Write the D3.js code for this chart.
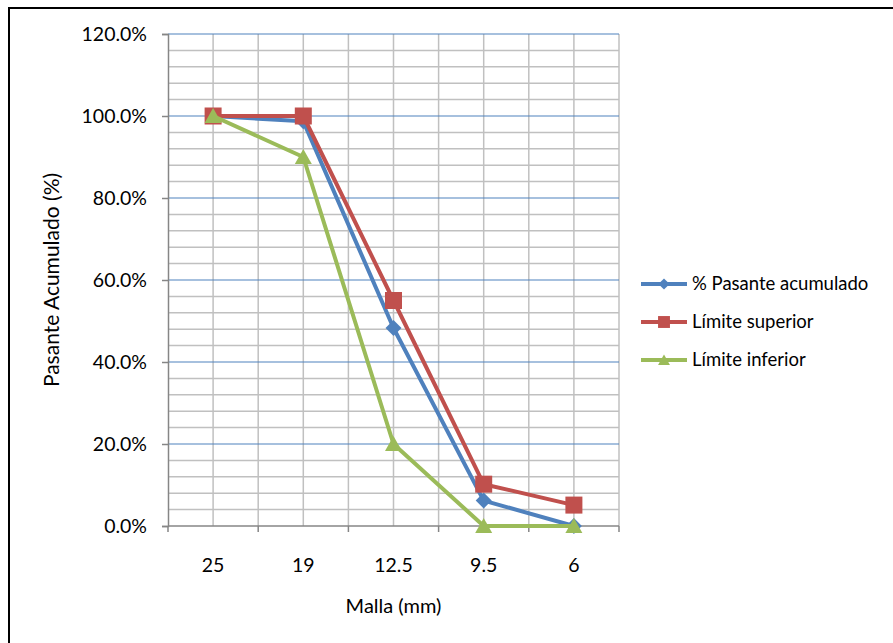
<!DOCTYPE html>
<html><head><meta charset="utf-8">
<script src="https://cdn.jsdelivr.net/npm/d3@7"></script>
<style>body{margin:0;background:#fff}svg{display:block}text{font-family:Lato,"Noto Sans",sans-serif;fill:#000}</style>
</head><body><svg id="c" width="893" height="643"></svg>
<script>
const categories = ["25","19","12.5","9.5","6"];
const pasante = [100, 98.7, 48.3, 6.2, 0];
const superior = [100, 100, 55, 10.2, 5.1];
const inferior = [100, 90, 20, 0, 0];
const seriesNames = ["% Pasante acumulado","Límite superior","Límite inferior"];
const yTicks = [0,20,40,60,80,100,120];

const svg = d3.select("#c");
const L=168,R=619,T=34,B=526;
svg.append("rect").attr("x",9).attr("y",8).attr("width",900).attr("height",700).attr("fill","#fff").attr("stroke","#000").attr("stroke-width",2);

const x = d3.scalePoint().domain(categories).range([L,R]).padding(0.5);
const xb = d3.scaleLinear().domain([0,categories.length]).range([L,R]);
const y = d3.scaleLinear().domain([0,120]).range([B,T]);

const g = svg.append("g");
const minor = d3.range(0,121,4).filter(v=>v%20!==0);
g.selectAll(".mn").data(minor).join("line").attr("x1",L).attr("x2",R).attr("y1",d=>y(d)).attr("y2",d=>y(d)).attr("stroke","#c0c0c0").attr("stroke-width",1.5);
const vx = d3.range(1, categories.length*2+1).map(i=>xb(i/2));
g.selectAll(".vg").data(vx).join("line").attr("x1",d=>d).attr("x2",d=>d).attr("y1",T).attr("y2",B).attr("stroke","#c0c0c0").attr("stroke-width",1.5);
g.selectAll(".mj").data(yTicks.filter(v=>v>0)).join("line").attr("x1",L).attr("x2",R).attr("y1",d=>y(d)).attr("y2",d=>y(d)).attr("stroke","#4F81BD").attr("stroke-width",1.2);

const yAxis = d3.axisLeft(y).tickValues(yTicks).tickFormat(d=>d.toFixed(1)+"%").tickSize(6).tickPadding(15);
const ya = svg.append("g").attr("transform",`translate(${L},0)`).call(yAxis);
ya.attr("font-size",null).attr("font-family",null);
ya.select(".domain").attr("stroke","#868686").attr("stroke-width",1.5);
ya.selectAll(".tick line").attr("stroke","#868686").attr("stroke-width",1.5);
ya.selectAll("text").style("font-size","19.5px").attr("fill","#000");

const xa = svg.append("g").attr("transform",`translate(0,${B})`);
xa.append("line").attr("x1",L).attr("x2",R).attr("stroke","#868686").attr("stroke-width",1.5);
xa.selectAll(".xt").data(d3.range(0,categories.length+1)).join("line").attr("x1",d=>xb(d)).attr("x2",d=>xb(d)).attr("y1",0).attr("y2",6).attr("stroke","#868686").attr("stroke-width",1.5);
xa.selectAll(".xl").data(categories).join("text").attr("x",d=>x(d)).attr("y",39).attr("dy","0.35em").attr("text-anchor","middle").style("font-size","19.5px").text(d=>d);

svg.append("text").attr("transform",`translate(52,${(T+B)/2}) rotate(-90)`).attr("dy","0.35em").attr("text-anchor","middle").style("font-size","21px").text("Pasante Acumulado (%)");
svg.append("text").attr("x",(L+R)/2).attr("y",606).attr("dy","0.35em").attr("text-anchor","middle").style("font-size","20px").text("Malla (mm)");

const colors = ["#4F81BD","#C0504D","#9BBB59"];
const data = [pasante, superior, inferior];
const line = d3.line().x((d,i)=>x(categories[i])).y(d=>y(d));
function marker(sel, k){
  if(k===0){
    sel.append("path").attr("d","M0,-8L8,0L0,8L-8,0Z").attr("fill",colors[k]);
  } else if(k===1){
    sel.append("rect").attr("x",-8.5).attr("y",-8.5).attr("width",17).attr("height",17).attr("fill",colors[k]);
  } else {
    sel.append("path").attr("d","M0,-8L8.5,7L-8.5,7Z").attr("fill",colors[k]);
  }
}
[0,1,2].forEach(k=>{
  svg.append("path").datum(data[k]).attr("d",line).attr("fill","none").attr("stroke",colors[k]).attr("stroke-width",4).attr("stroke-linejoin","round");
  data[k].forEach((v,i)=>{
    const m = svg.append("g").attr("transform",`translate(${x(categories[i])},${y(v)})`);
    marker(m,k);
  });
});

const ly = [284,322,360];
seriesNames.forEach((n,k)=>{
  svg.append("line").attr("x1",641).attr("x2",687).attr("y1",ly[k]).attr("y2",ly[k]).attr("stroke",colors[k]).attr("stroke-width",4);
  const m = svg.append("g").attr("transform",`translate(664,${ly[k]}) scale(0.7)`);
  marker(m,k);
  svg.append("text").attr("x",692).attr("y",ly[k]).attr("dy","0.35em").style("font-size","18.5px").text(n);
});
</script></body></html>
